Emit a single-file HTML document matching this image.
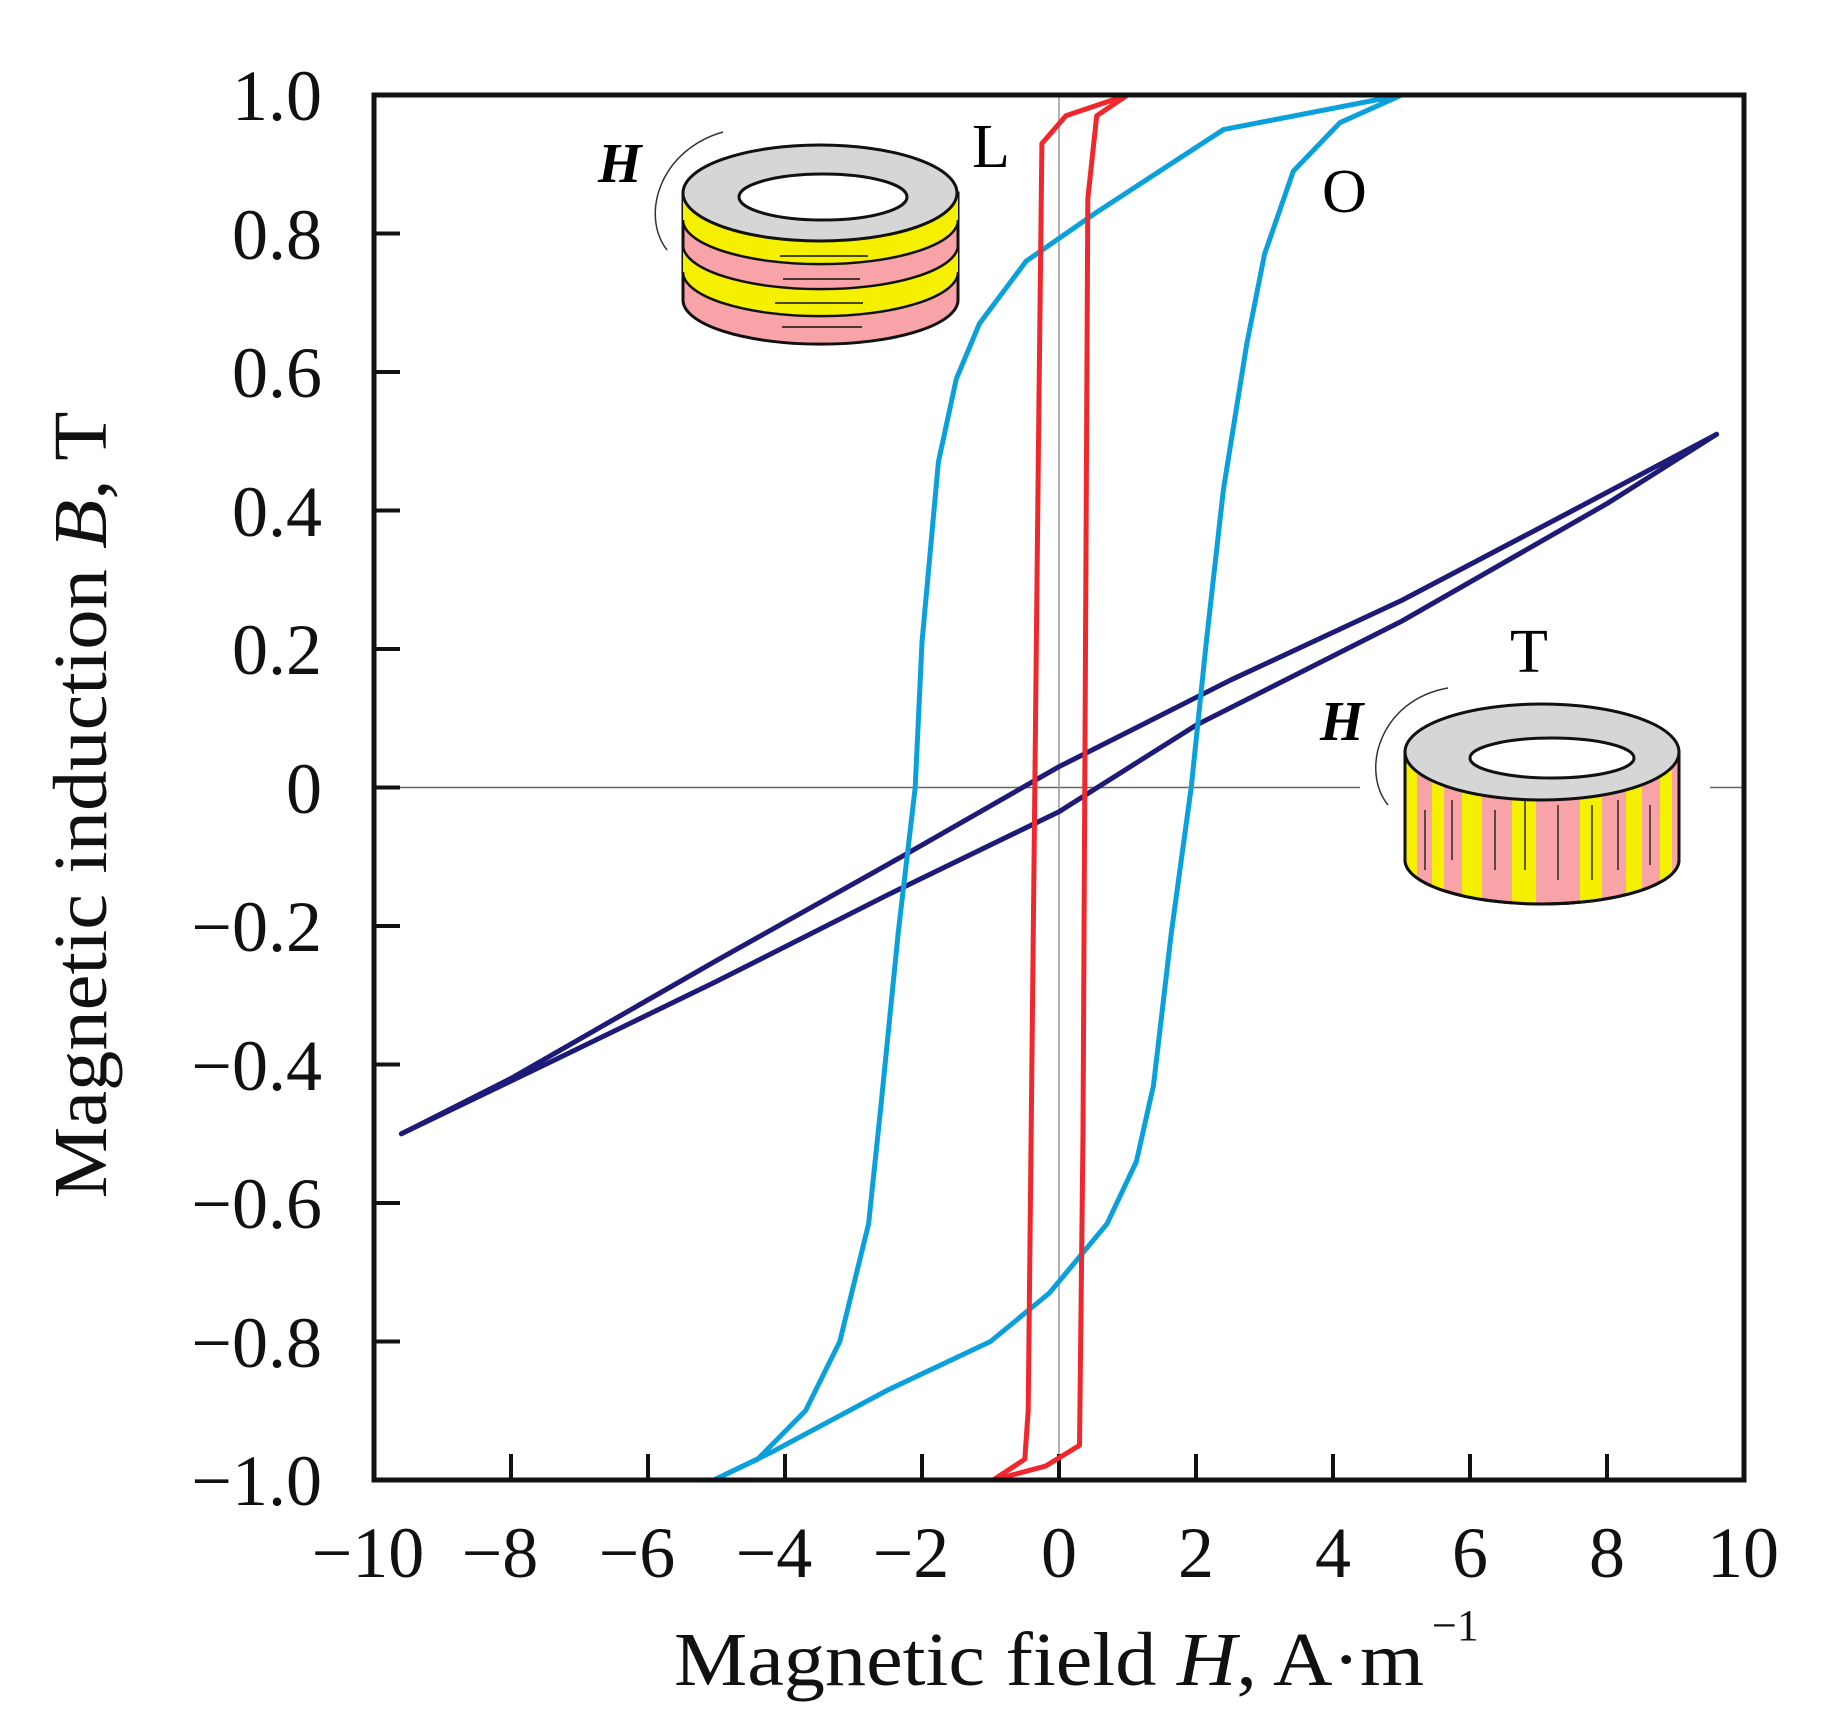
<!DOCTYPE html>
<html><head><meta charset="utf-8"><style>html,body{margin:0;padding:0;background:#fff}svg{display:block}</style></head>
<body>
<svg width="1828" height="1736" viewBox="0 0 1828 1736" xmlns="http://www.w3.org/2000/svg" font-family="'Liberation Serif', serif">
<defs>
<clipPath id="sideT"><path d="M1405,752 L1405,860 A137,44 0 0 0 1679,860 L1679,752 Z"/></clipPath>
<clipPath id="sideL"><path d="M683,193 L683,300 A137,44 0 0 0 958,300 L958,193 Z"/></clipPath>
</defs>
<line x1="374" y1="787.5" x2="1744" y2="787.5" stroke="#666" stroke-width="1.5"/>
<line x1="1059" y1="95" x2="1059" y2="1480" stroke="#999" stroke-width="1.5"/>
<g stroke="#111" stroke-width="4">
<line x1="511" y1="1480" x2="511" y2="1454"/><line x1="648" y1="1480" x2="648" y2="1454"/><line x1="785" y1="1480" x2="785" y2="1454"/><line x1="922" y1="1480" x2="922" y2="1454"/><line x1="1059" y1="1480" x2="1059" y2="1454"/><line x1="1196" y1="1480" x2="1196" y2="1454"/><line x1="1333" y1="1480" x2="1333" y2="1454"/><line x1="1470" y1="1480" x2="1470" y2="1454"/><line x1="1607" y1="1480" x2="1607" y2="1454"/>
<line x1="374" y1="233.5" x2="400" y2="233.5"/><line x1="374" y1="372" x2="400" y2="372"/><line x1="374" y1="510.5" x2="400" y2="510.5"/><line x1="374" y1="649" x2="400" y2="649"/><line x1="374" y1="787.5" x2="400" y2="787.5"/><line x1="374" y1="926" x2="400" y2="926"/><line x1="374" y1="1064.5" x2="400" y2="1064.5"/><line x1="374" y1="1203" x2="400" y2="1203"/><line x1="374" y1="1341.5" x2="400" y2="1341.5"/>
</g>
<g fill="none" stroke-width="5" stroke-linejoin="round" stroke-linecap="round">
<polyline stroke="#1e1a78" points="401.4,1133.8 511,1078.4 716.5,960.6 901.4,856.8 1059,766.7 1230.3,680.2 1401.5,600.5 1572.8,510.5 1716.6,434.3"/>
<polyline stroke="#1e1a78" points="401.4,1133.8 545.3,1064.5 716.5,981.4 887.8,894.8 1059,811.7 1196,725.2 1401.5,621.3 1607,503.6 1716.6,434.3"/>
<polyline stroke="#0aa0dc" points="1401.5,95 1223.4,129.6 1096,212.7 1026.1,261.2 979.5,323.5 956.3,378.9 938.4,462 922,642.1 915.2,787.5 898.2,932.9 880.9,1106.1 868.6,1223.8 839.8,1341.5 805.5,1410.8 757.6,1459.2 713.8,1480 771.3,1452.3 887.8,1390 990.5,1341.5 1049.4,1293 1107,1223.8 1136.4,1161.5 1153.5,1085.3 1171.3,932.9 1191.2,787.5 1206.3,642.1 1223.4,489.7 1246.7,344.3 1264.5,254.3 1293.3,171.2 1339.9,122.7 1401.5,95"/>
<polyline stroke="#f0282d" points="1127.5,95 1096.7,115.8 1087.8,198.9 1083,1133.8 1079.5,1445.4 1045.3,1466.2 993.2,1480 1024.8,1459.2 1028.2,1410.8 1038.5,441.3 1041.9,143.5 1065.9,115.8 1127.5,95"/>
</g>
<g stroke="#111" stroke-width="3">
<path d="M683,193 L683,300 A137,44 0 0 0 958,300 L958,193 Z" fill="#f7a3a8"/>
<g clip-path="url(#sideL)" stroke="none" fill="#f5f000">
<path d="M683,193 L958,193 L958,220 A137,44 0 0 1 683,220 Z"/>
<path d="M683,245 A137,44 0 0 0 958,245 L958,272 A137,44 0 0 1 683,272 Z"/>
</g>
<path d="M683,220 A137,44 0 0 0 958,220 M683,245 A137,44 0 0 0 958,245 M683,272 A137,44 0 0 0 958,272" fill="none" stroke-width="2.5"/>
<ellipse cx="820" cy="193" rx="137" ry="48" fill="#d6d6d6"/>
<ellipse cx="823" cy="197" rx="84" ry="23" fill="#fff"/>
<path d="M780,256 L868,256 M783,279 L860,279 M775,303 L863,303 M782,327 L862,327" stroke-width="1.5"/>
</g>
<path d="M667,250 C640,215 660,150 723,132" fill="none" stroke="#333" stroke-width="1.5"/>
<text x="598" y="182" font-size="56" font-weight="bold" font-style="italic">H</text>
<text x="972" y="167" font-size="62">L</text>
<text x="1322" y="212" font-size="62">O</text>
<rect x="1360" y="680" width="350" height="240" fill="#fff"/>
<g stroke="#111" stroke-width="3">
<path d="M1405,752 L1405,860 A137,44 0 0 0 1679,860 L1679,752 Z" fill="#f7a3a8"/>
<g clip-path="url(#sideT)" stroke="none" fill="#f5f000">
<rect x="1405" y="740" width="12" height="180"/><rect x="1432" y="740" width="12" height="180"/><rect x="1462" y="740" width="20" height="180"/><rect x="1512" y="740" width="24" height="180"/><rect x="1580" y="740" width="22" height="180"/><rect x="1626" y="740" width="16" height="180"/><rect x="1660" y="740" width="12" height="180"/>
</g>
<path d="M1405,752 L1405,860 A137,44 0 0 0 1679,860 L1679,752" fill="none"/>
<ellipse cx="1542" cy="752" rx="137" ry="48" fill="#d6d6d6"/>
<ellipse cx="1552" cy="758" rx="82" ry="20" fill="#fff"/>
<path d="M1425,810 L1425,870 M1452,800 L1452,860 M1495,810 L1495,870 M1525,800 L1525,870 M1558,805 L1558,880 M1592,805 L1592,880 M1618,800 L1618,870 M1650,805 L1650,865" stroke-width="1.3"/>
</g>
<path d="M1388,805 C1360,770 1380,700 1448,688" fill="none" stroke="#333" stroke-width="1.5"/>
<text x="1320" y="740" font-size="56" font-weight="bold" font-style="italic">H</text>
<text x="1510" y="672" font-size="62">T</text>
<rect x="374" y="95" width="1370" height="1385" fill="none" stroke="#111" stroke-width="5"/>
<g font-size="72" text-anchor="end" fill="#111">
<text x="322" y="120">1.0</text><text x="322" y="259">0.8</text><text x="322" y="397">0.6</text><text x="322" y="536">0.4</text><text x="322" y="674">0.2</text><text x="322" y="813">0</text><text x="322" y="951">−0.2</text><text x="322" y="1090">−0.4</text><text x="322" y="1228">−0.6</text><text x="322" y="1367">−0.8</text><text x="322" y="1505">−1.0</text>
</g>
<g font-size="72" text-anchor="middle" fill="#111">
<text x="368" y="1577">−10</text><text x="500" y="1577">−8</text><text x="637" y="1577">−6</text><text x="774" y="1577">−4</text><text x="911" y="1577">−2</text><text x="1059" y="1577">0</text><text x="1196" y="1577">2</text><text x="1333" y="1577">4</text><text x="1470" y="1577">6</text><text x="1607" y="1577">8</text><text x="1743" y="1577">10</text>
</g>
<text x="674" y="1685" font-size="76" fill="#111" textLength="750" lengthAdjust="spacingAndGlyphs">Magnetic field <tspan font-style="italic">H</tspan>, A·m</text>
<text x="1432" y="1640" font-size="44" fill="#111">−1</text>
<text transform="translate(106,805) rotate(-90)" font-size="76" text-anchor="middle" fill="#111" textLength="787" lengthAdjust="spacingAndGlyphs">Magnetic induction <tspan font-style="italic">B</tspan>, T</text>
</svg>
</body></html>
